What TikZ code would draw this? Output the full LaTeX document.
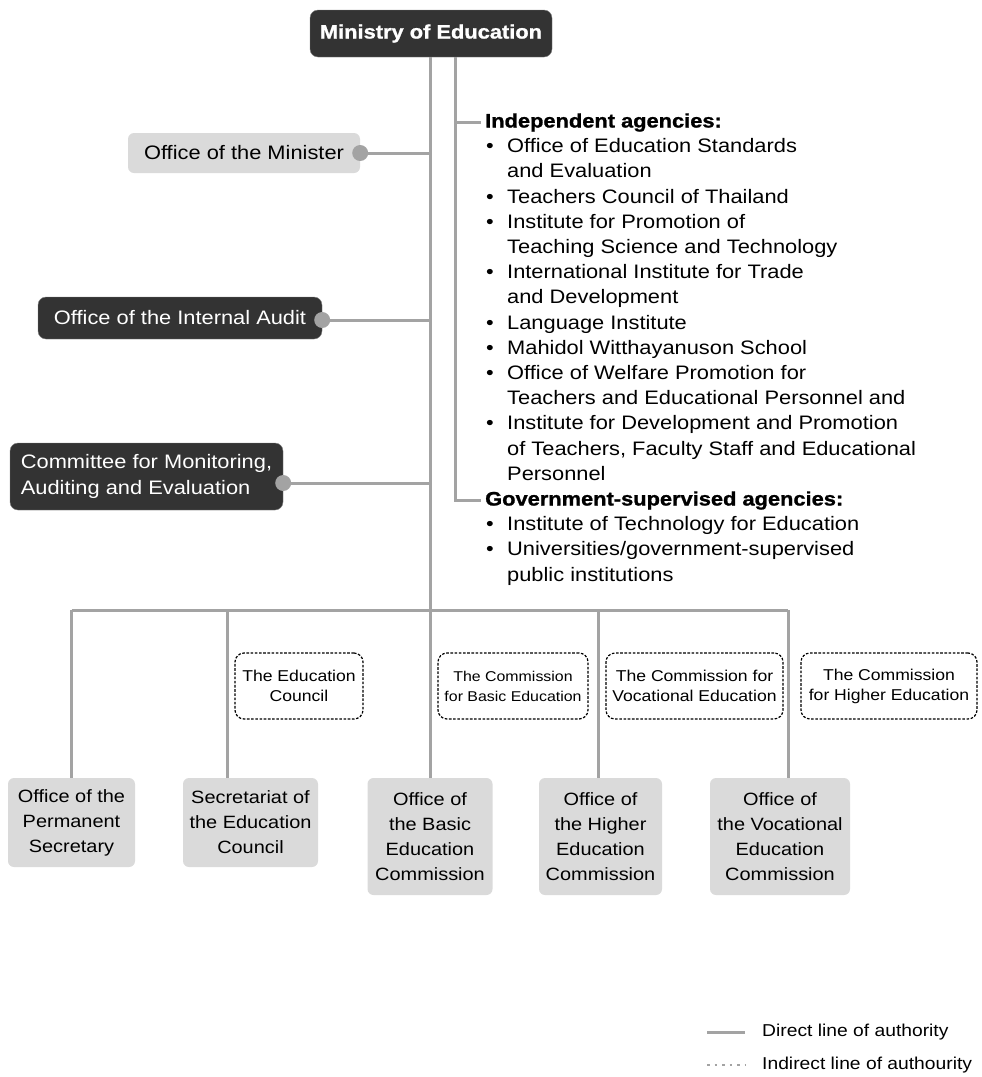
\documentclass[tikz,border=0pt]{standalone}
\usepackage{fontspec}
\setmainfont[FakeStretch=1.12]{Liberation Sans}
\usepackage{array}
\usetikzlibrary{positioning}
\definecolor{linegray}{HTML}{A3A3A3}
\definecolor{boxdark}{HTML}{333333}
\definecolor{boxlight}{HTML}{DADADA}
\newcommand\mainsz{\fontsize{19.5}{25.2}\selectfont}
\newcommand\officesz{\fontsize{17.8}{25}\selectfont}
\newcommand\councilsz{\fontsize{15.7}{20}\selectfont}
\newcommand\legendsz{\fontsize{17.2}{20}\selectfont}
\newcommand\heavy{\bfseries\addfontfeature{FakeBold=1.2}}
\begin{document}
\begin{tikzpicture}[x=1pt,y=-1pt,
  darkbox/.style={fill=boxdark,draw=black!50,rounded corners=8pt,text=white,inner sep=0pt,font=\mainsz},
  lightbox/.style={fill=boxlight,rounded corners=6pt,inner sep=0pt,font=\mainsz},
  officebox/.style={fill=boxlight,rounded corners=6pt,inner sep=0pt,align=center,font=\officesz},
  councilbox/.style={draw,dash pattern=on 2.6pt off 1.6pt,rounded corners=9pt,line width=1.2pt,inner sep=0pt,align=center,font=\councilsz},
  authline/.style={linegray,line width=3pt},
  joint/.style={circle,fill=linegray,inner sep=0pt,minimum size=16pt},
  headtext/.style={anchor=base west,inner xsep=4pt,inner ysep=0pt,font=\mainsz\heavy},
  listtext/.style={anchor=base west,inner sep=0pt,font=\mainsz},
  legendtext/.style={anchor=west,inner sep=0pt,font=\legendsz}]

\useasboundingbox (0,0) rectangle (982,1077);

% top of the chart
\node[darkbox,minimum width=242pt,minimum height=47pt,font=\mainsz\heavy] (moe) at (431,33.5) {Ministry of Education};

% offices on the left
\node[lightbox,minimum width=232pt,minimum height=40pt] (minister) at (244,153) {Office of the Minister};
\node[joint] (ministerdot) at (minister.east) {};
\node[darkbox,minimum width=284pt,minimum height=42pt] (audit) at (180,318) {Office of the Internal Audit};
\node[joint] (auditdot) at (audit.east |- 0,320) {};
\node[darkbox,minimum width=273pt,minimum height=67pt,align=left] (committee) at (146.5,476.5) {Committee for Monitoring,\\Auditing and Evaluation};
\node[joint] (committeedot) at (committee.east |- 0,483) {};

% agencies
\node[headtext] (indephead) at (481,127.5) {Independent agencies:};
\node[listtext] (indeplist) at (486,152.7) {\begin{tabular}[t]{@{}p{21pt}@{}l@{}}
\textbullet & Office of Education Standards\\
 & and Evaluation\\
\textbullet & Teachers Council of Thailand\\
\textbullet & Institute for Promotion of\\
 & Teaching Science and Technology\\
\textbullet & International Institute for Trade\\
 & and Development\\
\textbullet & Language Institute\\
\textbullet & Mahidol Witthayanuson School\\
\textbullet & Office of Welfare Promotion for\\
 & Teachers and Educational Personnel and\\
\textbullet & Institute for Development and Promotion\\
 & of Teachers, Faculty Staff and Educational\\
 & Personnel
\end{tabular}};
\node[headtext] (govhead) at (481,505.5) {Government-supervised agencies:};
\node[listtext] (govlist) at (486,530.7) {\begin{tabular}[t]{@{}p{21pt}@{}l@{}}
\textbullet & Institute of Technology for Education\\
\textbullet & Universities/government-supervised\\
 & public institutions
\end{tabular}};

% councils and commissions
\node[councilbox,minimum width=128pt,minimum height=66pt] (educouncil) at (299,686) {The Education\\Council};
\node[councilbox,minimum width=150pt,minimum height=66pt,font=\fontsize{14.2}{20}\selectfont] (basiccomm) at (513,686) {The Commission\\for Basic Education};
\node[councilbox,minimum width=177pt,minimum height=66pt] (voccomm) at (694.5,686) {The Commission for\\Vocational Education};
\node[councilbox,minimum width=176pt,minimum height=66pt] (highercomm) at (889,686) {The Commission\\for Higher Education};

% offices at the bottom
\node[officebox,minimum width=127pt,minimum height=89pt] (permsec) at (71.5,822.5) {Office of the\\Permanent\\Secretary};
\node[officebox,minimum width=135pt,minimum height=89pt] (secretariat) at (250.5,822.5) {Secretariat of\\the Education\\Council};
\node[officebox,minimum width=125pt,minimum height=117pt] (basicoffice) at (430,836.5) {Office of\\the Basic\\Education\\Commission};
\node[officebox,minimum width=123pt,minimum height=117pt] (higheroffice) at (600.5,836.5) {Office of\\the Higher\\Education\\Commission};
\node[officebox,minimum width=140pt,minimum height=117pt] (vocoffice) at (780,836.5) {Office of\\the Vocational\\Education\\Commission};

% lines of authority
\coordinate (branch) at (455,0);
\coordinate (bus) at (0,610);
\coordinate (secrdrop) at ([xshift=-23.5pt]secretariat.north);
\coordinate (higherdrop) at ([xshift=-2.5pt]higheroffice.north);
\coordinate (vocdrop) at ([xshift=8pt]vocoffice.north);
\draw[authline] (moe.south -| basicoffice.north) -- (basicoffice.north);
\draw[authline] (moe.south -| branch) -- (branch |- govhead.west) -- (govhead.west);
\draw[authline] (branch |- indephead.west) -- (indephead.west);
\draw[authline] (ministerdot.east) -- (ministerdot -| basicoffice.north);
\draw[authline] (auditdot.east) -- (auditdot -| basicoffice.north);
\draw[authline] (committeedot.east) -- (committeedot -| basicoffice.north);
\draw[authline] (permsec.north |- bus) -- (vocdrop |- bus);
\draw[authline] (permsec.north) -- (permsec.north |- bus);
\foreach \d in {secrdrop,higherdrop,vocdrop}
  \draw[authline] (\d) -- (\d |- bus);

% legend
\node[legendtext] (directlbl) at (762,1032) {Direct line of authority};
\node[legendtext] (indirectlbl) at (762,1065) {Indirect line of authourity};
\draw[authline] ([xshift=-55pt]directlbl.west) -- ([xshift=-17pt]directlbl.west);
\draw[linegray,line width=2.5pt,dash pattern=on 2.5pt off 5pt] ([xshift=-55pt]indirectlbl.west) -- ([xshift=-17pt]indirectlbl.west);
\end{tikzpicture}
\end{document}
